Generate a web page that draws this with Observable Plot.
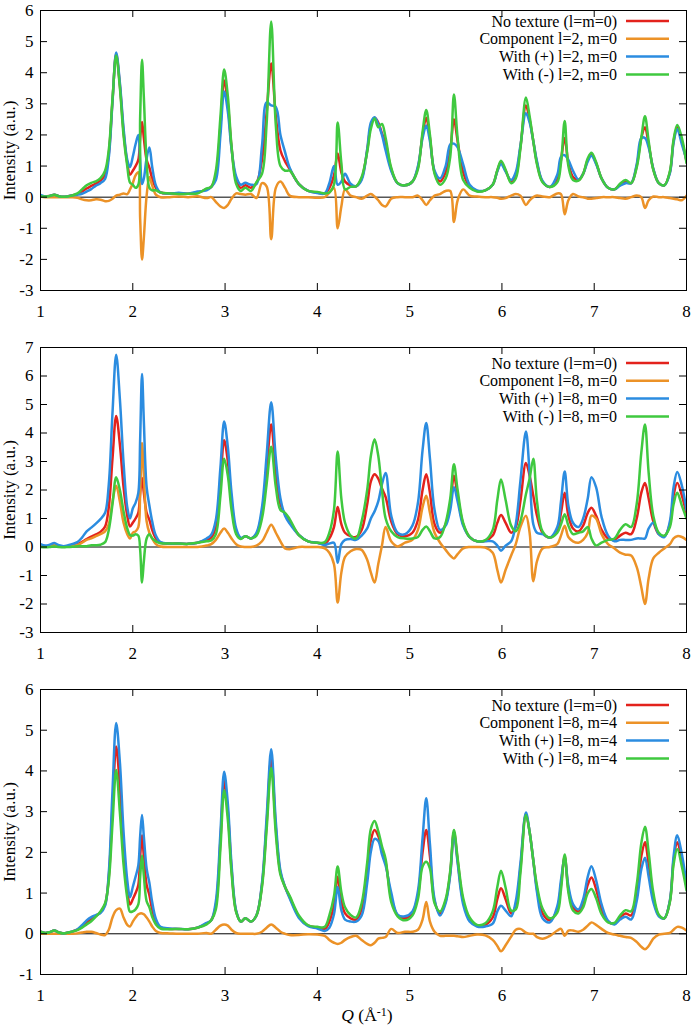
<!DOCTYPE html>
<html><head><meta charset="utf-8">
<script src="https://cdn.jsdelivr.net/npm/d3@7"></script>
<script src="https://cdn.jsdelivr.net/npm/@observablehq/plot@0.6"></script>
<style>
body{margin:0;background:#fff;}
#chart{width:692px;}
#chart svg{display:block;}
</style></head><body><div id="chart"></div>
<script>
// Q grid (Å^-1), shared by every series
const Q = [
 1.00,1.05,1.10,1.15,1.20,1.25,1.30,1.35,1.40,1.45,1.50,1.55,1.60,1.65,1.70,
 1.74,1.78,1.82,1.86,1.90,1.94,1.97,2.00,2.03,2.06,2.08,2.10,2.12,2.15,2.18,2.21,2.25,2.30,
 2.40,2.50,2.60,2.70,2.80,2.85,2.90,2.95,
 2.99,3.03,3.07,3.12,3.17,3.22,3.28,3.34,3.40,3.45,3.50,3.55,3.60,3.65,3.70,3.80,3.90,4.00,
 4.08,4.13,4.18,4.22,4.26,4.30,4.36,4.42,4.48,4.54,4.58,4.62,4.66,4.70,4.74,4.80,4.87,4.95,
 5.03,5.09,5.14,5.18,5.22,5.27,5.33,5.39,5.44,5.48,5.52,5.58,5.65,5.73,5.82,5.90,5.95,5.99,6.04,6.10,6.15,6.20,
 6.26,6.30,6.34,6.38,6.44,6.52,6.60,6.64,6.68,6.72,6.77,6.83,6.88,6.93,6.97,7.02,7.08,
 7.15,7.22,7.28,7.34,7.40,7.46,7.51,7.55,7.59,7.64,7.70,7.76,7.82,7.86,7.90,7.95,8.00];

// No texture (l=m=0) — same curve in all three panels
const noTexture = [
 0.05,0.02,0.04,0.08,0.03,0.01,0.03,0.06,0.10,0.18,0.28,0.36,0.44,0.53,0.72,
 1.4,3.1,4.6,3.6,2.1,1.1,0.72,0.85,1.0,1.2,1.9,2.42,1.9,1.2,0.95,0.6,0.3,0.15,
 0.12,0.12,0.11,0.15,0.25,0.33,0.7,2.3,
 3.75,3.0,1.6,0.55,0.3,0.38,0.3,0.45,1.2,2.7,4.3,2.6,1.5,1.15,0.9,0.42,0.2,0.15,
 0.12,0.3,0.7,1.4,0.8,0.5,0.38,0.35,0.6,1.5,2.3,2.55,2.4,2.05,1.75,0.9,0.45,0.38,
 0.5,0.95,2.0,2.55,1.9,0.8,0.5,0.8,1.5,2.5,1.8,0.8,0.35,0.2,0.22,0.4,0.85,1.12,0.85,0.5,0.7,1.6,
 2.95,2.5,1.8,1.1,0.5,0.33,0.6,1.2,1.9,1.1,0.65,0.55,0.75,1.2,1.38,1.1,0.6,
 0.3,0.25,0.4,0.5,0.45,1.0,1.9,2.25,1.7,0.9,0.45,0.38,0.8,1.8,2.25,1.8,1.15];

// Panel 1: l=2, m=0
const comp1 = [
 0.02,0,0,0,0,0,0,0,-0.02,-0.07,-0.1,-0.1,-0.07,-0.08,-0.13,
 -0.12,-0.05,0.05,0.08,0.12,0.1,0.25,0.45,0.7,0.8,-0.7,-2.0,-1.3,0.05,0.65,0.38,0.08,0,
 0,0.02,0,0.03,-0.03,0,-0.15,-0.3,
 -0.35,-0.25,-0.05,0.12,0.1,0.08,0.1,-0.03,0.45,0.35,-1.35,0.3,0.5,0.3,0.05,0,0,-0.02,
 0,0.15,0.3,-1.0,-0.3,0.25,0.05,0,-0.05,0.05,0.1,0.02,-0.1,-0.25,-0.3,-0.05,0,0,
 0,0.05,-0.1,-0.25,-0.1,0.05,0.1,0.2,0.2,-0.8,-0.1,0.25,0.05,0.02,0,0,-0.02,-0.05,-0.03,0.05,0.1,0.05,
 -0.25,-0.1,0,0.05,0.02,0,0.12,0.1,-0.55,-0.1,0.1,0.02,0,-0.05,-0.05,-0.03,0,
 0,0,-0.03,-0.05,0,0.05,0,-0.35,-0.1,0.02,0,0,-0.03,-0.05,-0.07,-0.1,0.05];
const plus1 = [
 0.07,0.02,0.04,0.08,0.03,0.01,0.03,0.06,0.08,0.11,0.18,0.26,0.37,0.45,0.59,
 1.28,3.05,4.65,3.68,2.22,1.2,0.97,1.3,1.7,2.0,1.2,0.42,0.6,1.25,1.6,0.98,0.38,0.15,
 0.12,0.14,0.11,0.18,0.22,0.33,0.55,2.0,
 3.4,2.75,1.55,0.67,0.4,0.46,0.4,0.42,1.65,3.05,2.95,2.9,2.0,1.45,0.95,0.42,0.2,0.13,
 0.12,0.45,1.0,0.4,0.5,0.75,0.43,0.35,0.55,1.55,2.4,2.57,2.35,2.0,1.5,0.85,0.45,0.38,
 0.5,1.0,1.9,2.3,1.8,0.85,0.6,1.0,1.7,1.72,1.6,1.05,0.4,0.22,0.22,0.4,0.83,1.07,0.82,0.55,0.8,1.65,
 2.7,2.4,1.8,1.15,0.52,0.33,0.72,1.3,1.35,1.2,0.85,0.57,0.75,1.15,1.33,1.07,0.6,
 0.3,0.25,0.37,0.45,0.45,1.05,1.9,1.9,1.6,0.92,0.45,0.38,0.77,1.75,2.18,1.7,1.2];
const minus1 = [
 0.03,0.02,0.04,0.08,0.03,0.01,0.03,0.06,0.12,0.25,0.38,0.46,0.51,0.61,0.85,
 1.52,3.15,4.55,3.52,1.98,1.0,0.47,0.4,0.3,0.4,2.6,4.42,3.2,1.15,0.3,0.22,0.22,0.15,
 0.12,0.10,0.11,0.12,0.28,0.33,0.85,2.6,
 4.1,3.25,1.65,0.43,0.2,0.3,0.2,0.48,0.75,2.35,5.65,2.3,1.0,0.85,0.85,0.42,0.2,0.17,
 0.12,0.15,0.4,2.4,1.1,0.25,0.33,0.35,0.65,1.45,2.2,2.53,2.25,2.35,1.9,0.95,0.45,0.38,
 0.5,0.9,2.1,2.8,2.0,0.75,0.4,0.6,1.3,3.3,1.9,0.55,0.3,0.18,0.22,0.4,0.87,1.17,0.88,0.45,0.6,1.55,
 3.2,2.6,1.8,1.05,0.48,0.33,0.48,1.1,2.45,1.0,0.55,0.53,0.75,1.25,1.43,1.13,0.6,
 0.3,0.25,0.43,0.55,0.45,0.95,1.9,2.6,1.8,0.88,0.45,0.38,0.83,1.85,2.32,1.9,1.1];

// Panel 2: l=8, m=0
const comp2 = [
 0.05,0.03,0.04,0.06,0.03,0.02,0.03,0.05,0.07,0.15,0.25,0.3,0.38,0.45,0.55,
 0.8,1.6,2.15,1.6,0.85,0.45,0.3,0.5,0.55,0.7,1.9,3.65,2.5,0.9,0.5,0.3,0.1,0.02,
 0,0,0,0,0.05,0.1,0.25,0.5,
 0.65,0.5,0.3,0.1,0.02,0,0,0.05,0.2,0.5,0.78,0.5,0.2,-0.05,-0.08,0,0,0,
 -0.05,-0.2,-0.6,-1.95,-0.9,-0.35,-0.15,-0.07,-0.1,-0.45,-0.9,-1.25,-0.6,0.05,0.7,0.2,0.02,0.15,
 0.25,0.6,1.4,1.8,1.2,0.5,0.15,-0.1,-0.3,-0.4,-0.25,-0.05,0,0,-0.02,-0.2,-0.8,-1.25,-0.8,-0.3,0.1,0.7,
 1.1,0.5,-1.2,-0.5,-0.05,0,0.1,0.4,0.75,0.35,0.2,0.15,0.25,0.5,1.1,1.0,0.45,
 0.1,-0.05,-0.2,-0.27,-0.3,-0.7,-1.4,-2.0,-1.1,-0.4,-0.2,-0.05,0.1,0.3,0.38,0.35,0.25];
const plus2 = [
 0.10,0.05,0.08,0.14,0.06,0.03,0.06,0.11,0.17,0.33,0.55,0.68,0.82,0.98,1.2,
 2.2,4.7,6.75,5.2,2.95,1.4,1.0,1.35,1.55,1.9,3.8,6.07,4.4,2.1,1.45,0.9,0.4,0.17,
 0.12,0.12,0.11,0.15,0.3,0.43,0.95,2.8,
 4.4,3.5,1.9,0.65,0.32,0.38,0.3,0.5,1.4,3.2,5.08,3.1,1.7,1.1,0.82,0.42,0.2,0.15,
 0.07,0.12,0.15,-0.55,0.1,0.25,0.28,0.25,0.4,0.65,1.0,1.25,1.6,2.2,2.6,1.1,0.5,0.45,
 0.75,1.55,3.4,4.35,3.1,1.3,0.6,0.75,1.3,2.1,1.6,0.75,0.35,0.2,0.2,0.2,0.05,-0.13,0.05,0.2,0.8,2.3,
 4.05,2.6,0.8,0.5,0.45,0.33,0.7,1.6,2.65,1.45,0.85,0.7,1.0,1.7,2.45,2.1,1.05,
 0.4,0.2,0.25,0.25,0.25,0.3,0.3,0.3,0.65,0.85,0.45,0.35,0.9,2.1,2.63,2.15,1.3];
const minus2 = [
 0.0,-0.01,0.0,0.02,0.0,-0.01,0.0,0.01,0.03,0.03,0.03,0.06,0.06,0.08,0.17,
 0.6,1.5,2.45,2.0,1.25,0.65,0.42,0.4,0.45,0.4,-0.1,-1.25,-0.5,0.3,0.45,0.3,0.2,0.13,
 0.12,0.12,0.11,0.15,0.2,0.23,0.45,1.8,
 3.1,2.5,1.3,0.45,0.28,0.38,0.3,0.4,1.0,2.2,3.52,2.1,1.3,1.2,0.98,0.42,0.2,0.15,
 0.17,0.5,1.3,3.35,1.7,0.85,0.4,0.3,0.9,2.0,3.2,3.78,3.2,2.0,1.0,0.55,0.35,0.3,
 0.3,0.35,0.6,0.72,0.55,0.3,0.35,0.85,1.7,2.9,2.0,0.85,0.35,0.2,0.24,0.6,1.65,2.37,1.65,0.75,0.55,0.9,
 1.85,2.4,3.1,1.6,0.55,0.33,0.5,0.8,1.15,0.75,0.45,0.5,0.55,0.7,0.3,0.05,0.15,
 0.25,0.3,0.6,0.8,0.7,1.5,3.3,4.3,2.6,1.1,0.5,0.4,0.7,1.5,1.9,1.45,1.0];

// Panel 3: l=8, m=4
const comp3 = [
 0,0,0,0,0,0,0,0,0.01,0.03,0.05,0.05,0.02,-0.02,-0.03,
 0.1,0.4,0.58,0.62,0.4,0.22,0.18,0.3,0.4,0.48,0.5,0.5,0.48,0.4,0.3,0.18,0.07,0.02,
 0.01,0,0,0,0.02,0,0.1,0.2,
 0.23,0.2,0.1,0.02,0,0,0,0,0.05,0.15,0.23,0.15,0.05,0,-0.03,-0.03,-0.01,-0.02,
 -0.05,-0.15,-0.22,-0.25,-0.22,-0.15,-0.08,-0.05,-0.15,-0.25,-0.28,-0.22,-0.12,-0.1,-0.08,0.12,0.02,0.05,
 0.05,0.1,0.35,0.78,0.3,0.05,-0.05,-0.05,-0.05,-0.05,-0.06,-0.08,-0.05,-0.02,-0.04,-0.15,-0.3,-0.43,-0.28,-0.07,0.1,0.12,
 0.03,0,0,-0.08,-0.12,-0.05,0.08,0.12,-0.05,0.08,0.08,0.05,0.1,0.2,0.28,0.22,0.12,
 0.02,-0.02,-0.05,-0.08,-0.1,-0.2,-0.32,-0.38,-0.3,-0.12,-0.02,0,0.02,0.1,0.17,0.15,0.08];
const plus3 = [
 0.05,0.02,0.04,0.08,0.03,0.01,0.03,0.06,0.11,0.21,0.33,0.41,0.46,0.51,0.69,
 1.5,3.5,5.18,4.22,2.5,1.32,0.9,1.15,1.4,1.68,2.4,2.92,2.38,1.6,1.25,0.78,0.37,0.17,
 0.13,0.12,0.11,0.15,0.27,0.33,0.8,2.5,
 3.98,3.2,1.7,0.57,0.3,0.38,0.3,0.45,1.25,2.85,4.53,2.75,1.55,1.15,0.87,0.39,0.19,0.13,
 0.07,0.15,0.48,1.15,0.58,0.35,0.3,0.3,0.45,1.25,2.02,2.33,2.28,1.95,1.67,1.02,0.47,0.43,
 0.55,1.05,2.35,3.33,2.2,0.85,0.45,0.75,1.45,2.45,1.74,0.72,0.3,0.18,0.18,0.25,0.55,0.69,0.57,0.43,0.8,1.72,
 2.98,2.5,1.8,1.02,0.38,0.28,0.68,1.32,1.85,1.18,0.73,0.6,0.85,1.4,1.66,1.32,0.72,
 0.32,0.23,0.35,0.42,0.35,0.8,1.58,1.87,1.4,0.78,0.43,0.38,0.82,1.9,2.42,1.95,1.23];
const minus3 = [
 0.05,0.02,0.04,0.08,0.03,0.01,0.03,0.06,0.09,0.15,0.23,0.31,0.42,0.55,0.75,
 1.3,2.7,4.02,2.98,1.7,0.88,0.54,0.55,0.6,0.72,1.4,1.92,1.42,0.8,0.65,0.42,0.23,0.13,
 0.11,0.12,0.11,0.15,0.23,0.33,0.6,2.1,
 3.52,2.8,1.5,0.53,0.3,0.38,0.3,0.45,1.15,2.55,4.07,2.45,1.45,1.15,0.93,0.45,0.21,0.17,
 0.17,0.45,0.92,1.65,1.02,0.65,0.46,0.4,0.75,1.75,2.58,2.77,2.52,2.15,1.83,0.78,0.43,0.33,
 0.45,0.85,1.65,1.77,1.6,0.75,0.55,0.85,1.55,2.55,1.86,0.88,0.4,0.22,0.26,0.55,1.15,1.55,1.13,0.57,0.6,1.48,
 2.92,2.5,1.8,1.18,0.62,0.38,0.52,1.08,1.95,1.02,0.57,0.5,0.65,1.0,1.1,0.88,0.48,
 0.28,0.27,0.45,0.58,0.55,1.2,2.22,2.63,2.0,1.02,0.47,0.38,0.78,1.7,2.08,1.65,1.07];

const xTicks = [1, 2, 3, 4, 5, 6, 7, 8];
const yTicks1 = [-3, -2, -1, 0, 1, 2, 3, 4, 5, 6];
const yTicks2 = [-3, -2, -1, 0, 1, 2, 3, 4, 5, 6, 7];
const yTicks3 = [-1, 0, 1, 2, 3, 4, 5, 6];
const legend1 = ["No texture (l=m=0)", "Component l=2, m=0", "With (+) l=2, m=0", "With (-) l=2, m=0"];
const legend2 = ["No texture (l=m=0)", "Component l=8, m=0", "With (+) l=8, m=0", "With (-) l=8, m=0"];
const legend3 = ["No texture (l=m=0)", "Component l=8, m=4", "With (+) l=8, m=4", "With (-) l=8, m=4"];
const colors = ["#e3221c", "#ec9227", "#2b8ce0", "#3fc93f"];
const yLabel = "Intensity (a.u.)";

const FONT = "'Liberation Serif', 'Times New Roman', serif";
const FS = 17;     // tick labels, axis titles
const FS_LEG = 16; // legend

[noTexture, comp1, plus1, minus1, comp2, plus2, minus2, comp3, plus3, minus3].forEach((a, i) => {
  if (a.length !== Q.length) console.error("length mismatch", i, a.length, Q.length);
});

function panel(series, yTicks, labels, withXLabel, mt) {
  const W = 692, H = 342, mb = 52, ml = 40, mr = 6, legendTop = 5;
  const pw = W - ml - mr, ph = H - mt - mb, tk = 7;
  const lines = series.map((s, k) =>
    Plot.line(Q.map((q, i) => ({q, v: s[i]})), {
      x: "q", y: "v", stroke: colors[k], strokeWidth: 2.5,
      curve: "catmull-rom", clip: true
    }));
  const svg = Plot.plot({
    width: W, height: H,
    marginTop: mt, marginBottom: mb, marginLeft: ml, marginRight: mr,
    style: {fontFamily: FONT, fontSize: FS + "px", background: "#fff", overflow: "visible"},
    x: {domain: [xTicks[0], xTicks[xTicks.length - 1]]},
    y: {domain: [yTicks[0], yTicks[yTicks.length - 1]]},
    marks: [
      Plot.ruleY([0], {stroke: "#000", strokeWidth: 1}),
      ...lines,
      Plot.tickX(xTicks, {x: d => d, insetTop: ph - tk, stroke: "#000"}),
      Plot.tickX(xTicks, {x: d => d, insetBottom: ph - tk, stroke: "#000"}),
      Plot.tickY(yTicks, {y: d => d, insetLeft: pw - tk, stroke: "#000"}),
      Plot.tickY(yTicks, {y: d => d, insetRight: pw - tk, stroke: "#000"}),
      Plot.frame({stroke: "#000", strokeWidth: 1}),
      Plot.axisX(xTicks, {tickSize: 0, tickPadding: 14, fontSize: FS, label: null, tickFormat: d => String(d)}),
      Plot.axisY(yTicks, {tickSize: 0, tickPadding: 7, fontSize: FS, tickFormat: d => String(d),
        label: yLabel, labelAnchor: "center", labelArrow: "none", labelOffset: 38})
    ]
  });
  const sel = d3.select(svg);
  const g = sel.append("g").attr("font-family", FONT).attr("font-size", FS_LEG);
  labels.forEach((t, i) => {
    const y = legendTop + 16 + i * 17.8;
    const xr = W - mr;
    g.append("text").attr("x", xr - 69).attr("y", y).attr("dy", "0.35em")
      .attr("text-anchor", "end").attr("fill", "#000").text(t);
    g.append("line").attr("x1", xr - 60).attr("x2", xr - 17).attr("y1", y).attr("y2", y)
      .attr("stroke", colors[i]).attr("stroke-width", 2.5);
  });
  if (withXLabel) {
    const t = sel.append("text").attr("font-family", FONT).attr("font-size", 17.5)
      .attr("x", ml + pw / 2 + 4).attr("y", H - 5).attr("text-anchor", "middle").attr("fill", "#000");
    t.append("tspan").attr("font-style", "italic").text("Q");
    t.append("tspan").text(" (Å");
    t.append("tspan").attr("font-size", 12).attr("dy", "-0.45em").text("-1");
    t.append("tspan").attr("dy", "0.3em").text(")");
  }
  return svg;
}

const root = document.getElementById("chart");
root.appendChild(panel([noTexture, comp1, plus1, minus1], yTicks1, legend1, false, 10));
root.appendChild(panel([noTexture, comp2, plus2, minus2], yTicks2, legend2, false, 5));
root.appendChild(panel([noTexture, comp3, plus3, minus3], yTicks3, legend3, true, 5));
</script>
</body></html>
